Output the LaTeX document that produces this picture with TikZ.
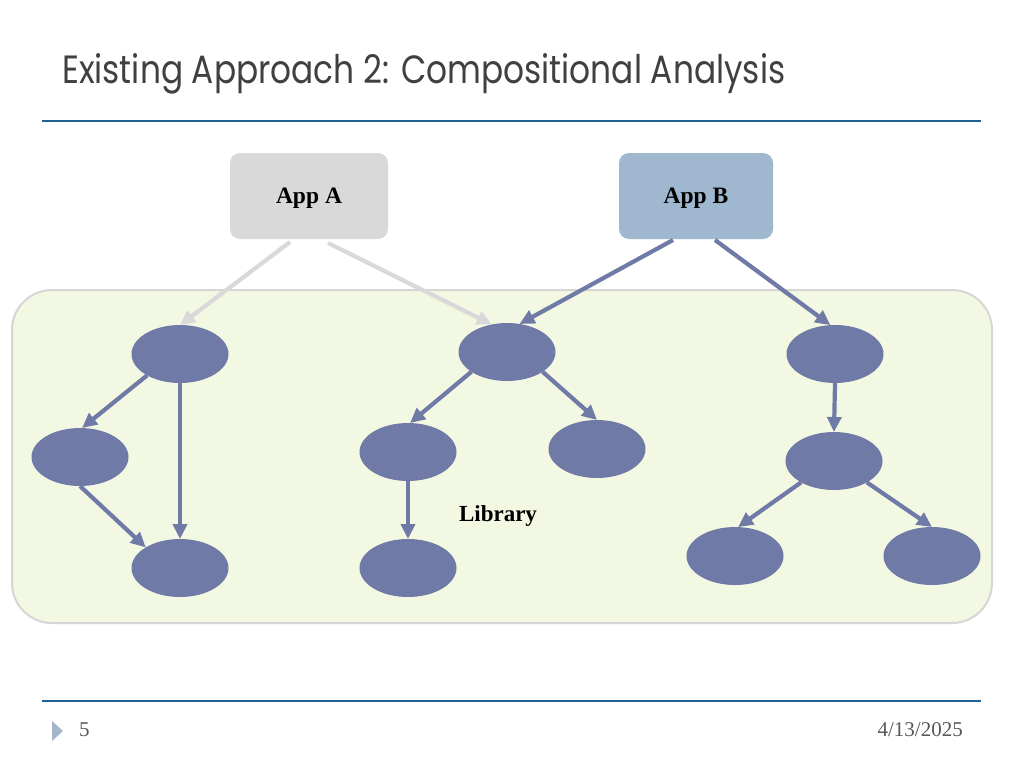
\documentclass[tikz,border=0pt]{standalone}
\usepackage{fontspec}
\setmainfont{Liberation Serif}
\newfontfamily\titlefont{Poppins}
\usetikzlibrary{arrows.meta,shapes.geometric,calc}
\definecolor{titlegray}{HTML}{404040}
\definecolor{rulecol}{HTML}{21608F}
\definecolor{nodecol}{HTML}{707AA6}
\definecolor{grayarr}{HTML}{D9D9D9}
\definecolor{appa}{HTML}{D9D9D9}
\definecolor{appb}{HTML}{9FB7CF}
\definecolor{libfill}{HTML}{F3F8E3}
\definecolor{libdraw}{HTML}{D6D6D6}
\definecolor{footgray}{HTML}{595959}
\definecolor{tri}{HTML}{A3B6CC}
\tikzset{
  ell/.style={ellipse, fill=nodecol, minimum width=97pt, minimum height=58pt, inner sep=0pt, outer sep=0pt},
  appbox/.style={rectangle, rounded corners=10pt, minimum width=158pt, minimum height=86pt, inner sep=0pt, outer sep=0pt, text depth=0pt, font=\fontsize{23.5}{25}\selectfont\bfseries},
  arr/.style={line width=4.2pt, draw=nodecol, -{Triangle[length=15pt,width=14pt]}},
  garr/.style={line width=4.2pt, draw=grayarr, -{Triangle[length=15pt,width=14pt]}},
  rule/.style={line width=2.5pt, draw=rulecol},
  foot/.style={font=\fontsize{21}{23}\selectfont, text=footgray, inner sep=0pt}
}
\begin{document}
\begin{tikzpicture}[x=1pt,y=-1pt]
\useasboundingbox (0,0) rectangle (1024,768);
\fill[white] (0,0) rectangle (1024,768);
% title
\node[anchor=base west, inner sep=0pt, text=titlegray] (title) at (62,83)
  {\resizebox{723pt}{30pt}{\titlefont Existing Approach 2: Compositional Analysis}};
\coordinate (r1a) at (42,121);
\coordinate (r1b) at (981,121);
\draw[rule] (r1a) -- (r1b);
\coordinate (r2a) at (42,701);
\coordinate (r2b) at (981,701);
\draw[rule] (r2a) -- (r2b);
% footer
\fill[tri] (52,721) -- (63,731) -- (52,741) -- cycle;
\node[foot, anchor=west] (pg) at (79,730) {5};
\node[foot, anchor=east] (date) at (963,730) {4/13/2025};
% library region
\node[rectangle, rounded corners=40pt, fill=libfill, draw=libdraw, line width=2pt,
  minimum width=980pt, minimum height=333pt, inner sep=0pt] (lib) at (502,456.5) {};
\node[font=\fontsize{23}{25}\selectfont\bfseries, text depth=0pt] (libtext) at (498,514) {Library};
% apps
\node[appbox, fill=appa] (A) at (309,196) {App A};
\node[appbox, fill=appb, minimum width=154pt] (B) at (696,196) {App B};
% ellipses
\node[ell] (L1) at (180,354) {};
\node[ell] (L2) at (80,457) {};
\node[ell] (L3) at (180,568) {};
\node[ell] (M1) at (507,352) {};
\node[ell] (M2) at (408,452) {};
\node[ell] (M3) at (597,449) {};
\node[ell] (M4) at (408,568) {};
\node[ell] (R1) at (835,354) {};
\node[ell] (R2) at (834,461) {};
\node[ell] (R3) at (735,556) {};
\node[ell] (R4) at (932,556) {};
% app arrows
\draw[garr] ($(A.south)+(-19,3)$) -- (L1.north);
\draw[garr] ($(A.south)+(19,4)$) -- (M1.119);
\draw[arr] ($(B.south)+(-23,1)$) -- (M1.66);
\draw[arr] ($(B.south)+(19,1)$) -- (R1.99);
% tree arrows
\draw[arr] (L1.-147) -- (L2.86);
\draw[arr] (L1.south) -- (L3.north);
\draw[arr] (L2.south) -- (L3.149);
\draw[arr] (M1.-151) -- (M2.86);
\draw[arr] (M1.-29) -- (M3.north);
\draw[arr] (M2.south) -- (M4.north);
\draw[arr] (R1.south) -- (R2.north);
\draw[arr] (R2.-147) -- (R3.84);
\draw[arr] (R2.-33) -- (R4.north);
\end{tikzpicture}
\end{document}
